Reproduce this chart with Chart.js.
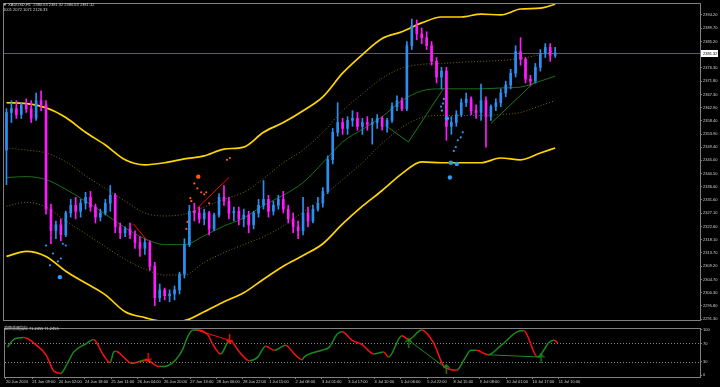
<!DOCTYPE html>
<html>
<head>
<meta charset="utf-8">
<script src="https://cdn.jsdelivr.net/npm/chart.js@4.4.1/dist/chart.umd.min.js"></script>
<style>
  html, body { margin: 0; padding: 0; background: #000; }
  #wrap { position: relative; width: 720px; height: 387px; background: #000; overflow: hidden; }
  canvas { position: absolute; left: 0; }
  #main { top: 0; }
  #osc { top: 324px; }
</style>
</head>
<body>
<div id="wrap">
  <canvas id="main" width="720" height="324"></canvas>
  <canvas id="osc" width="720" height="63"></canvas>
</div>
<script>
// XAUUSD H1 - each candle here stands for ~3 hourly bars
const candleOpen = [
  2348.5, 2361.2, 2362.5, 2360.5, 2363.8, 2362.5, 2359.2, 2365.2, 2363.8, 2328.5,
  2321.2, 2323.2, 2319.8, 2327.2, 2329.8, 2327.8, 2330.5, 2332.5, 2329.2, 2325.8,
  2327.2, 2330.5, 2333.2, 2322.5, 2320.5, 2321.8, 2319.8, 2317.2, 2315.2, 2317.2,
  2309.2, 2298.5, 2301.2, 2299.2, 2299.8, 2301.2, 2306.5, 2316.5, 2327.8, 2327.2,
  2325.2, 2327.2, 2321.8, 2326.5, 2332.5, 2331.2, 2327.2, 2327.8, 2325.2, 2326.5,
  2323.2, 2327.2, 2329.8, 2331.8, 2327.8, 2329.8, 2331.8, 2328.5, 2325.2, 2322.5,
  2321.2, 2327.2, 2324.5, 2328.5, 2330.5, 2334.5, 2345.2, 2354.5, 2357.8, 2355.8,
  2358.5, 2359.2, 2356.5, 2357.8, 2357.2, 2357.8, 2359.2, 2356.5, 2358.5, 2363.2,
  2365.2, 2362.5, 2383.8, 2390.5, 2387.8, 2386.5, 2383.8, 2378.5, 2373.2, 2375.2,
  2356.5, 2357.8, 2360.5, 2364.5, 2365.8, 2361.8, 2361.2, 2365.2, 2359.8, 2363.2,
  2364.5, 2367.8, 2370.5, 2374.5, 2381.8, 2379.2, 2372.5, 2371.8, 2376.5, 2381.2,
  2383.2, 2380.5
];
const candleHigh = [
  2362.5, 2365.2, 2365.2, 2364.5, 2365.8, 2365.2, 2367.8, 2368.5, 2365.2, 2330.2,
  2324.5, 2325.2, 2327.8, 2331.8, 2332.5, 2331.8, 2334.2, 2334.5, 2330.2, 2328.5,
  2331.8, 2336.5, 2333.8, 2323.8, 2322.5, 2323.8, 2321.2, 2319.2, 2318.5, 2317.8,
  2310.5, 2303.2, 2301.8, 2301.2, 2302.5, 2307.2, 2318.5, 2329.8, 2330.5, 2329.2,
  2328.5, 2327.8, 2327.2, 2333.8, 2336.5, 2332.5, 2329.2, 2329.2, 2328.5, 2327.8,
  2327.8, 2331.8, 2338.2, 2333.2, 2331.2, 2333.2, 2334.5, 2329.8, 2327.2, 2324.5,
  2332.5, 2329.2, 2329.8, 2332.5, 2335.8, 2346.5, 2355.8, 2364.5, 2359.2, 2359.8,
  2361.8, 2361.2, 2359.2, 2359.8, 2359.2, 2360.5, 2359.8, 2359.2, 2364.5, 2366.8,
  2366.2, 2385.2, 2392.8, 2392.5, 2389.8, 2388.5, 2385.2, 2379.8, 2376.5, 2376.5,
  2359.8, 2361.8, 2365.8, 2367.8, 2366.5, 2363.8, 2370.8, 2366.5, 2363.8, 2365.8,
  2369.2, 2371.8, 2375.8, 2383.8, 2386.5, 2379.8, 2373.8, 2377.8, 2382.5, 2384.5,
  2384.5, 2383.2
];
const candleLow = [
  2336.8, 2357.8, 2359.2, 2359.2, 2361.2, 2357.8, 2358.5, 2361.8, 2326.8, 2316.8,
  2318.5, 2317.8, 2319.2, 2325.8, 2325.2, 2325.8, 2328.5, 2327.8, 2323.8, 2324.5,
  2326.5, 2327.8, 2320.5, 2318.5, 2319.2, 2318.5, 2315.2, 2312.5, 2313.2, 2307.8,
  2295.8, 2297.2, 2297.8, 2297.2, 2297.8, 2299.8, 2305.2, 2315.8, 2324.5, 2323.8,
  2323.2, 2319.8, 2321.2, 2325.8, 2329.8, 2325.2, 2324.5, 2323.2, 2322.5, 2320.5,
  2321.8, 2325.8, 2328.5, 2325.8, 2326.5, 2328.5, 2327.2, 2323.8, 2320.5, 2318.5,
  2319.8, 2322.5, 2323.8, 2327.8, 2329.2, 2333.8, 2343.8, 2353.2, 2353.8, 2353.8,
  2356.5, 2355.2, 2353.8, 2355.2, 2350.5, 2355.8, 2355.2, 2354.5, 2357.8, 2361.8,
  2361.8, 2361.8, 2382.5, 2385.8, 2384.5, 2382.5, 2377.2, 2371.2, 2369.2, 2351.8,
  2353.8, 2356.5, 2359.8, 2363.2, 2360.5, 2359.2, 2358.5, 2349.5, 2358.5, 2361.8,
  2363.2, 2366.5, 2369.2, 2373.2, 2377.2, 2371.2, 2370.2, 2371.2, 2375.2, 2379.8,
  2378.5, 2379.8
];
const candleClose = [
  2361.2, 2362.5, 2360.5, 2363.8, 2362.5, 2359.2, 2365.2, 2363.8, 2328.5, 2321.2,
  2323.2, 2319.8, 2327.2, 2329.8, 2327.8, 2330.5, 2332.5, 2329.2, 2325.8, 2327.2,
  2330.5, 2333.2, 2322.5, 2320.5, 2321.8, 2319.8, 2317.2, 2315.2, 2317.2, 2309.2,
  2298.5, 2301.2, 2299.2, 2299.8, 2301.2, 2306.5, 2316.5, 2327.8, 2327.2, 2325.2,
  2327.2, 2321.8, 2326.5, 2332.5, 2331.2, 2327.2, 2327.8, 2325.2, 2326.5, 2323.2,
  2327.2, 2329.8, 2331.8, 2327.8, 2329.8, 2331.8, 2328.5, 2325.2, 2322.5, 2321.2,
  2327.2, 2324.5, 2328.5, 2330.5, 2334.5, 2345.2, 2354.5, 2357.8, 2355.8, 2358.5,
  2359.2, 2356.5, 2357.8, 2357.2, 2357.8, 2359.2, 2356.5, 2358.5, 2363.2, 2365.2,
  2362.5, 2383.8, 2390.5, 2387.8, 2386.5, 2383.8, 2378.5, 2373.2, 2375.2, 2356.5,
  2357.8, 2360.5, 2364.5, 2365.8, 2361.8, 2361.2, 2365.2, 2359.8, 2363.2, 2364.5,
  2367.8, 2370.5, 2374.5, 2381.8, 2379.2, 2372.5, 2371.8, 2376.5, 2381.2, 2383.2,
  2380.5, 2381.32
];
const lastPrice = 2381.32;

// bands, read every 4 candles
const bandIdx = [0, 4, 8, 12, 16, 20, 24, 28, 32, 36, 40, 44, 48, 52, 56, 60, 64, 68, 72, 76, 80, 84, 88, 92, 96, 100, 104, 108, 111];
const bandUpper = [2364.5, 2364.2, 2362.8, 2359.5, 2354.5, 2350.2, 2345.2, 2343.5, 2344.2, 2345.5, 2346.5, 2348.8, 2349.5, 2354.5, 2357.8, 2361.8, 2366.5, 2374.5, 2380.8, 2386.2, 2388.5, 2391.5, 2393.5, 2393.5, 2394.5, 2394.2, 2396.2, 2396.5, 2397.8];
const bandUpperInner = [2349.2, 2348.5, 2347.5, 2344.5, 2339.8, 2335.5, 2331.2, 2327.2, 2326.2, 2326.8, 2329.2, 2331.8, 2334.2, 2338.8, 2344.2, 2348.5, 2354.5, 2361.8, 2367.5, 2372.8, 2376.2, 2377.5, 2377.8, 2378.2, 2378.5, 2378.8, 2379.5, 2380.8, 2382.2];
const bandMid = [2339.2, 2339.5, 2338.5, 2335.2, 2331.2, 2326.8, 2322.2, 2318.5, 2316.5, 2316.5, 2319.5, 2322.8, 2325.5, 2329.8, 2333.2, 2337.5, 2344.2, 2351.2, 2355.5, 2359.8, 2365.2, 2368.5, 2369.2, 2369.2, 2369.2, 2369.5, 2369.8, 2371.8, 2373.5];
const bandLowerInner = [2329.5, 2330.8, 2329.2, 2324.5, 2320.2, 2315.8, 2311.5, 2308.2, 2306.2, 2306.2, 2310.5, 2313.8, 2316.5, 2319.2, 2322.8, 2327.5, 2332.8, 2338.5, 2344.2, 2350.8, 2356.2, 2359.5, 2360.2, 2360.2, 2360.2, 2360.5, 2361.2, 2363.5, 2365.2];
const bandLower = [2312.5, 2314.2, 2312.5, 2307.5, 2303.5, 2299.5, 2293.8, 2291.8, 2290.5, 2290.8, 2293.8, 2297.2, 2300.2, 2304.8, 2309.2, 2312.8, 2316.8, 2323.5, 2329.5, 2334.8, 2340.5, 2344.5, 2344.2, 2344.2, 2344.2, 2345.8, 2345.2, 2347.5, 2349.2];

// trend lines [candle, price]
const redLineA = [[25.7, 2323.5], [28.5, 2317.8]];
const redLineB = [[38.4, 2328.5], [45.0, 2339.2]];
const greenLineA = [[77.2, 2356.2], [81.3, 2351.2], [88.5, 2369.5]];
const greenLineB = [[98.0, 2357.5], [107.0, 2371.8]];

// signal dots [candle, price]
const orangeDots = [[45.2, 2345.8], [44.6, 2345.2], [38.0, 2337.2], [38.6, 2335.5], [39.4, 2334.2], [40.0, 2333.5],
  [40.4, 2334.2], [37.2, 2332.2], [37.4, 2331.2], [36.6, 2324.2], [36.4, 2321.8], [41.0, 2330.5]];
const orangeBigDots = [[38.8, 2339.5]];
const blueDots = [[8.0, 2316.2], [9.4, 2313.5], [11.4, 2316.8], [12.0, 2316.2], [8.8, 2309.5], [10.4, 2310.8],
  [11.0, 2311.8], [87.9, 2363.2], [88.3, 2364.2], [88.5, 2365.8], [88.1, 2361.8], [92.3, 2354.5], [91.9, 2352.8],
  [91.3, 2351.8], [90.9, 2349.5], [90.5, 2348.2]];
const blueBigDots = [[10.8, 2305.5], [89.1, 2359.2], [89.9, 2344.2], [91.1, 2343.8], [89.7, 2339.2]];

const priceTicks = [2394.20, 2389.70, 2385.20, 2376.30, 2371.80, 2367.30, 2362.90, 2358.40, 2353.90, 2349.40,
  2345.00, 2340.50, 2336.00, 2331.60, 2327.10, 2322.60, 2318.10, 2313.70, 2309.20, 2304.70, 2300.30, 2295.80, 2291.30];

// oscillator
const oscIdx = [0, 1.3, 3.3, 5.9, 7.8, 9.4, 10.8, 12.0, 13.4, 16.0, 17.4, 19.4, 20.8, 21.5, 21.9, 24.1, 25.1, 28.1, 30.1, 30.9,
  32.5, 34.1, 35.5, 36.6, 37.6, 38.6, 40.6, 41.6, 43.2, 45.0, 47.0, 49.0, 50.7, 52.3, 54.1, 56.3, 58.3, 59.7, 60.1, 63.7,
  65.2, 66.8, 67.8, 69.8, 71.8, 74.2, 76.2, 77.2, 79.9, 81.3, 83.9, 86.3, 88.5, 91.0, 92.5, 93.9, 95.0, 97.4, 100.0, 104.0,
  104.6, 107.4, 109.7, 110.7, 111.5];
const oscVal = [62, 79, 83, 66, 45, 9, 4, 23, 51, 70, 79, 45, 28, 51, 53, 34, 26, 34, 21, 19,
  21, 34, 57, 87, 100, 100, 89, 68, 47, 77, 51, 32, 40, 64, 55, 66, 45, 34, 40, 55,
  62, 91, 96, 77, 68, 47, 51, 40, 87, 79, 100, 72, 19, 11, 34, 55, 55, 45, 66, 98,
  98, 40, 72, 77, 71.2];
const oscRedLineA = [[25.1, 26], [28.9, 34]];
const oscRedLineB = [[38.2, 100], [45.0, 77]];
const oscGreenLineA = [[81.3, 77], [88.9, 15]];
const oscGreenLineB = [[97.4, 45], [108.1, 40]];
const oscDownArrows = [[28.5, 39], [45.0, 80]];
const oscUpArrows = [[81.3, 71], [88.9, 14], [108.1, 37]];
const oscLevels = [70, 30];
const oscTicks = [100, 70, 30, 0];

const timeLabels = ['20 Jun 2024', '21 Jun 09:00', '24 Jun 02:00', '24 Jun 18:00', '25 Jun 11:00', '26 Jun 04:00',
  '26 Jun 20:00', '27 Jun 13:00', '28 Jun 06:00', '28 Jun 22:00', '1 Jul 15:00', '2 Jul 08:00', '3 Jul 01:00',
  '3 Jul 17:00', '4 Jul 10:00', '5 Jul 06:00', '5 Jul 22:00', '8 Jul 15:00', '9 Jul 08:00', '10 Jul 01:00',
  '10 Jul 17:00', '11 Jul 10:00'];

const headerLine1 = '\u25BC XAUUSD,H1  2380.63 2381.32 2380.63 2381.32';
const headerLine2 = '1001 2072 1071 2126.33';
const oscTitle = '趋势背离指标 71.2455 71.2455';

// ---- look ----
const UP = '#2a8ff0', DOWN = '#ff1aff';
const FRAME = '#808080', TXT = '#d0d0d0';
const FONT = 'Liberation Sans';
const X_MIN = -0.5, X_MAX = 140.3;
const LABEL_STEP = 16 / 3; // 16 hourly bars between time labels

const pairs = arr => arr.map(([x, y]) => ({ x, y }));
const series = (xs, ys) => xs.map((x, k) => ({ x, y: ys[k] }));
const candleColor = candleClose.map((c, i) => c >= candleOpen[i] ? UP : DOWN);

function lineSet(data, color, width, extra) {
  return Object.assign({ type: 'line', data, borderColor: color, borderWidth: width, pointRadius: 0,
    cubicInterpolationMode: 'monotone', fill: false }, extra || {});
}
function straight(data, color, order) {
  return lineSet(data, color, 1, { order, cubicInterpolationMode: 'default', tension: 0 });
}
function dotSet(data, color, r, order) {
  return { type: 'line', data, showLine: false, pointRadius: r, pointBackgroundColor: color,
    pointBorderWidth: 0, order };
}
function arrowImage(color, pointsUp) {
  const c = document.createElement('canvas');
  c.width = 7; c.height = 10;
  const g = c.getContext('2d');
  g.strokeStyle = color; g.lineWidth = 1.4;
  g.beginPath();
  if (pointsUp) { g.moveTo(3.5, 10); g.lineTo(3.5, 1); g.moveTo(0.5, 4); g.lineTo(3.5, 1); g.lineTo(6.5, 4); }
  else { g.moveTo(3.5, 0); g.lineTo(3.5, 9); g.moveTo(0.5, 6); g.lineTo(3.5, 9); g.lineTo(6.5, 6); }
  g.stroke();
  return c;
}
function frame(chart) {
  const { ctx, chartArea: a } = chart;
  ctx.save();
  ctx.strokeStyle = FRAME; ctx.lineWidth = 1;
  ctx.strokeRect(a.left - 0.5, a.top - 0.5, a.right - a.left + 1, a.bottom - a.top + 1);
  ctx.restore();
}

const mainPlugin = {
  id: 'mainDecor',
  beforeDatasetsDraw(chart) {
    const { ctx, chartArea: a, scales } = chart;
    const y = Math.round(scales.y.getPixelForValue(lastPrice)) + 0.5;
    ctx.save();
    ctx.strokeStyle = '#5c5c68'; ctx.lineWidth = 1;
    ctx.beginPath(); ctx.moveTo(a.left, y); ctx.lineTo(a.right, y); ctx.stroke();
    ctx.restore();
  },
  afterDraw(chart) {
    const { ctx, chartArea: a, scales } = chart;
    frame(chart);
    ctx.save();
    ctx.font = '4px "' + FONT + '"';
    ctx.fillStyle = TXT; ctx.textBaseline = 'middle'; ctx.textAlign = 'left';
    ctx.fillText(headerLine1, 3, 5);
    ctx.fillText(headerLine2, 3, 10);
    const y = scales.y.getPixelForValue(lastPrice);
    ctx.fillStyle = '#ffffff';
    ctx.fillRect(a.right + 1, Math.round(y) - 3, 17, 7);
    ctx.fillStyle = '#000000';
    ctx.fillText(lastPrice.toFixed(2), a.right + 3, Math.round(y) + 0.5);
    ctx.restore();
  }
};

const oscPlugin = {
  id: 'oscDecor',
  beforeDatasetsDraw(chart) {
    const { ctx, chartArea: a, scales } = chart;
    ctx.save();
    ctx.strokeStyle = '#8a8a8a'; ctx.lineWidth = 1; ctx.setLineDash([1, 2]);
    oscLevels.forEach(v => {
      const y = Math.round(scales.y.getPixelForValue(v)) + 0.5;
      ctx.beginPath(); ctx.moveTo(a.left, y); ctx.lineTo(a.right, y); ctx.stroke();
    });
    ctx.restore();
  },
  afterDraw(chart) {
    const { ctx } = chart;
    frame(chart);
    ctx.save();
    ctx.font = '4px "Noto Sans CJK SC"';
    ctx.fillStyle = TXT; ctx.textBaseline = 'middle';
    ctx.fillText(oscTitle, 4, 4);
    ctx.restore();
  }
};

const tickFont = { size: 4, family: FONT };

new Chart(document.getElementById('main'), {
  type: 'bar',
  data: {
    datasets: [
      lineSet(series(bandIdx, bandUpper), '#ffd400', 1.7, { order: 10 }),
      lineSet(series(bandIdx, bandLower), '#ffd400', 1.7, { order: 10 }),
      lineSet(series(bandIdx, bandUpperInner), '#7d6a12', 1, { order: 11, borderDash: [1, 2] }),
      lineSet(series(bandIdx, bandLowerInner), '#7d6a12', 1, { order: 11, borderDash: [1, 2] }),
      lineSet(series(bandIdx, bandMid), '#1f6e1f', 1, { order: 11 }),
      { type: 'bar', data: candleClose.map((_, i) => ({ x: i, y: [candleLow[i], candleHigh[i]] })),
        backgroundColor: candleColor, barThickness: 1, grouped: false, order: 3 },
      { type: 'bar', data: candleClose.map((_, i) => ({ x: i, y: [candleOpen[i], candleClose[i]] })),
        backgroundColor: candleColor, barThickness: 2, minBarLength: 1, grouped: false, order: 2 },
      straight(pairs(redLineA), '#ff0000', 1),
      straight(pairs(redLineB), '#ff0000', 1),
      straight(pairs(greenLineA), '#1d7a1d', 1),
      straight(pairs(greenLineB), '#1d7a1d', 1),
      dotSet(pairs(orangeDots), '#ff5a14', 1.1, 0),
      dotSet(pairs(orangeBigDots), '#ff5a14', 2.2, 0),
      dotSet(pairs(blueDots), '#2a9cff', 1.1, 0),
      dotSet(pairs(blueBigDots), '#2a9cff', 2.2, 0)
    ]
  },
  options: {
    responsive: false,
    devicePixelRatio: 1,
    animation: false,
    events: [],
    layout: { padding: { top: 2, bottom: 1, left: 1, right: 0 } },
    plugins: { legend: { display: false }, tooltip: { enabled: false } },
    scales: {
      x: { type: 'linear', min: X_MIN, max: X_MAX, offset: false, display: false },
      y: {
        position: 'right', min: 2291.0, max: 2397.9,
        afterFit(s) { s.width = 20; },
        afterBuildTicks(s) { s.ticks = priceTicks.map(v => ({ value: v })); },
        ticks: { font: tickFont, color: TXT, padding: 1, autoSkip: false, callback: v => v.toFixed(2) },
        grid: { drawOnChartArea: false, tickLength: 2, color: FRAME },
        border: { color: FRAME }
      }
    }
  },
  plugins: [mainPlugin]
});

const arrowDown = arrowImage('#ff1010', false);
const arrowUp = arrowImage('#1a8a1a', true);

new Chart(document.getElementById('osc'), {
  type: 'line',
  data: {
    datasets: [
      { data: series(oscIdx, oscVal), borderWidth: 1.5, pointRadius: 0, cubicInterpolationMode: 'monotone',
        borderColor: '#1a8a1a',
        segment: { borderColor: c => c.p1.parsed.y < c.p0.parsed.y ? '#ff1010' : '#1a8a1a' }, order: 2 },
      straight(pairs(oscRedLineA), '#ff1010', 1),
      straight(pairs(oscRedLineB), '#ff1010', 1),
      straight(pairs(oscGreenLineA), '#1a8a1a', 1),
      straight(pairs(oscGreenLineB), '#1a8a1a', 1),
      { data: pairs(oscDownArrows), showLine: false, pointStyle: arrowDown, order: 0 },
      { data: pairs(oscUpArrows), showLine: false, pointStyle: arrowUp, order: 0 }
    ]
  },
  options: {
    responsive: false,
    devicePixelRatio: 1,
    animation: false,
    events: [],
    layout: { padding: { top: 1, bottom: 0, left: 1, right: 0 } },
    plugins: { legend: { display: false }, tooltip: { enabled: false } },
    scales: {
      x: {
        type: 'linear', min: X_MIN, max: X_MAX, offset: false,
        afterFit(s) { s.height = 10; },
        afterBuildTicks(s) { s.ticks = timeLabels.map((_, k) => ({ value: -0.3 + k * LABEL_STEP })); },
        ticks: { font: tickFont, color: TXT, padding: 0, autoSkip: false, maxRotation: 0, align: 'start',
          callback: (v, k) => timeLabels[k] },
        grid: { drawOnChartArea: false, tickLength: 2, color: FRAME },
        border: { color: FRAME }
      },
      y: {
        position: 'right', min: -4, max: 102,
        afterFit(s) { s.width = 20; },
        afterBuildTicks(s) { s.ticks = oscTicks.map(v => ({ value: v })); },
        ticks: { font: tickFont, color: TXT, padding: 1, autoSkip: false, callback: v => String(v) },
        grid: { drawOnChartArea: false, tickLength: 2, color: FRAME },
        border: { color: FRAME }
      }
    }
  },
  plugins: [oscPlugin]
});
</script>
</body>
</html>
